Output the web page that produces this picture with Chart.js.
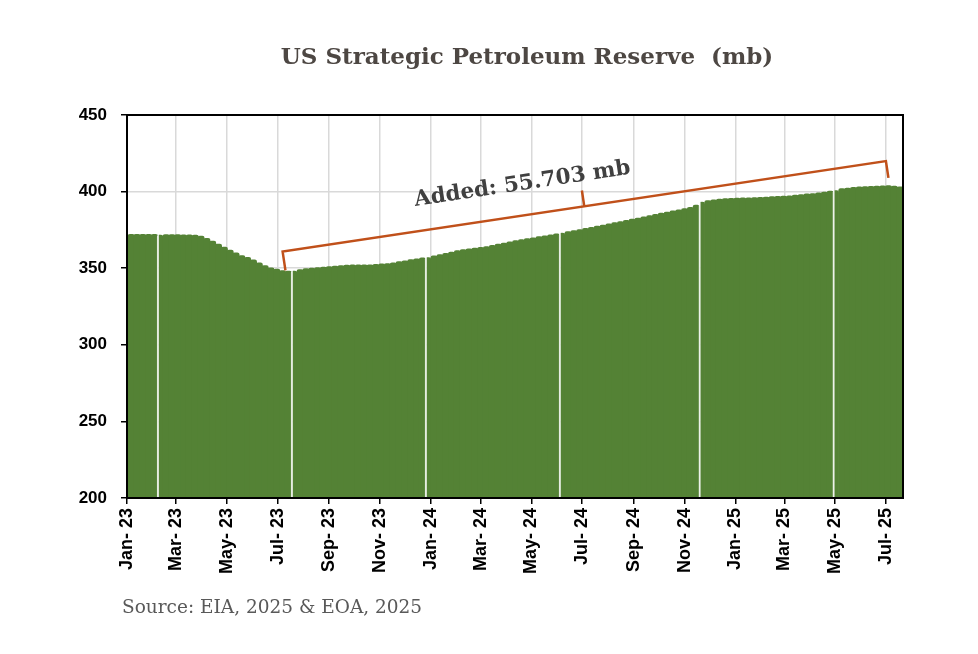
<!DOCTYPE html>
<html>
<head>
<meta charset="utf-8">
<title>US Strategic Petroleum Reserve</title>
<script src="https://cdn.jsdelivr.net/npm/chart.js@4.4.1/dist/chart.umd.min.js"></script>
<style>
  html, body { margin: 0; padding: 0; background: #fff; }
  #wrap { position: relative; width: 978px; height: 654px; }
</style>
</head>
<body>
<div id="wrap"><canvas id="mycanvas"></canvas></div>
<script>
// weekly SPR stocks in million barrels, first week ends Fri 6 Jan 2023
var firstWeek = '2023-01-06';
var weekValues = [
  372.0, 372.0, 372.0, 372.0, 371.9, 371.9, 371.8, 371.8, 371.7, 371.6, 371.6, 371.4,
  370.8, 369.4, 367.5, 365.5, 363.6, 361.7, 359.8, 358.0, 356.9, 355.3, 353.3, 351.6,
  350.1, 349.2, 348.3, 347.9, 348.4, 349.0, 349.5, 349.9, 350.2, 350.5, 350.9, 351.2,
  351.5, 351.8, 352.0, 352.0, 352.0, 352.0, 352.3, 352.6, 352.9, 353.4, 354.1, 354.7,
  355.4, 356.0, 356.6, 357.2, 357.9, 358.7, 359.5, 360.4, 361.3, 361.9, 362.4, 362.9,
  363.4, 364.0, 364.7, 365.5, 366.3, 367.0, 367.8, 368.5, 369.1, 369.7, 370.4, 371.0,
  371.6, 372.2, 373.1, 373.8, 374.4, 375.0, 375.8, 376.5, 377.3, 378.0, 378.8, 379.6,
  380.3, 381.1, 381.9, 382.6, 383.4, 384.2, 385.0, 385.8, 386.5, 387.3, 388.0, 388.7,
  389.6, 391.0, 393.3, 394.0, 394.5, 395.0, 395.3, 395.5, 395.6, 395.7, 395.8, 395.9,
  396.1, 396.3, 396.5, 396.7, 396.9, 397.1, 397.5, 397.9, 398.3, 398.6, 399.0, 399.5,
  400.1, 400.9, 401.8, 402.2, 402.6, 402.9, 403.1, 403.3, 403.5, 403.6, 403.7, 403.4, 403.0
];
// weeks where the excel render shows a thin white seam
var seamWeeks = [5, 28, 51, 74, 98, 121];

var tickDates = ['2023-01-01', '2023-03-01', '2023-05-01', '2023-07-01', '2023-09-01', '2023-11-01',
                 '2024-01-01', '2024-03-01', '2024-05-01', '2024-07-01', '2024-09-01', '2024-11-01',
                 '2025-01-01', '2025-03-01', '2025-05-01', '2025-07-01'];
var tickLabels = ['Jan- 23', 'Mar- 23', 'May- 23', 'Jul- 23', 'Sep- 23', 'Nov- 23',
                  'Jan- 24', 'Mar- 24', 'May- 24', 'Jul- 24', 'Sep- 24', 'Nov- 24',
                  'Jan- 25', 'Mar- 25', 'May- 25', 'Jul- 25'];
var yMin = 200, yMax = 450, yStep = 50;

var titleText = 'US Strategic Petroleum Reserve  (mb)';
var sourceText = 'Source: EIA, 2025 & EOA, 2025';
var noteText = 'Added: 55.703 mb';

var green = '#548235';
var bracketColor = '#C0501A';

// days since 1 Jan 2023
function dayOf(s) {
  var p = s.split('-');
  return (Date.UTC(+p[0], +p[1] - 1, +p[2]) - Date.UTC(2023, 0, 1)) / 86400000;
}
function weekDay(i) {
  return dayOf(firstWeek) + 7 * i;
}

var tickDays = tickDates.map(dayOf);
var points = [];
for (var i = 0; i < weekValues.length; i++) {
  points.push({ x: weekDay(i), y: weekValues[i] });
}
var xMax = weekDay(weekValues.length - 1) + 3.5;

var axisFont = { family: '"Liberation Sans", Arial, sans-serif', size: 18, weight: 'bold' };

var extras = {
  id: 'extras',
  afterDatasetsDraw: function(chart) {
    var c = chart.ctx, a = chart.chartArea;
    var xs = chart.scales.x, ys = chart.scales.y;
    c.save();
    // black frame round the plot
    c.strokeStyle = '#000';
    c.lineWidth = 2;
    c.strokeRect(a.left, a.top, a.right - a.left, a.bottom - a.top);

    // bracket from the low point to the latest high
    var lo = Math.min.apply(null, weekValues), hi = Math.max.apply(null, weekValues);
    var iLo = weekValues.indexOf(lo), iHi = weekValues.indexOf(hi);
    var lx = xs.getPixelForValue(weekDay(iLo)) - 3, ly = ys.getPixelForValue(lo) - 1;
    var rx = xs.getPixelForValue(weekDay(iHi)), ry = ys.getPixelForValue(hi) - 8;
    var dx = rx - lx, dy = (ry - 17) - (ly - 19);
    var len = Math.sqrt(dx * dx + dy * dy);
    var nx = dy / len, ny = -dx / len;
    var tlx = lx + nx * 19, tly = ly + ny * 19;
    var trx = rx + nx * 17, try_ = ry + ny * 17;
    c.strokeStyle = bracketColor;
    c.lineWidth = 2.5;
    c.lineJoin = 'miter';
    c.beginPath();
    c.moveTo(lx, ly);
    c.lineTo(tlx, tly);
    c.lineTo(trx, try_);
    c.lineTo(rx, ry);
    c.stroke();
    var mx = (tlx + trx) / 2, my = (tly + try_) / 2;
    c.beginPath();
    c.moveTo(mx, my);
    c.lineTo(mx + nx * 16, my + ny * 16);
    c.stroke();

    // label along the bracket
    var t = 0.405;
    var px = tlx + (trx - tlx) * t + nx * 31;
    var py = tly + (try_ - tly) * t + ny * 31;
    c.translate(px, py);
    c.rotate(Math.atan2(try_ - tly, trx - tlx));
    c.fillStyle = '#404040';
    c.font = 'bold 21.5px "DejaVu Serif", serif';
    c.textAlign = 'center';
    c.textBaseline = 'middle';
    c.fillText(noteText, 0, 0);
    c.restore();
  },
  afterDraw: function(chart) {
    var c = chart.ctx;
    c.save();
    c.fillStyle = '#4d4743';
    c.font = 'bold 23px "DejaVu Serif", serif';
    c.textAlign = 'center';
    c.textBaseline = 'middle';
    c.fillText(titleText, 527, 58);
    c.fillStyle = '#595959';
    c.font = '18.5px "DejaVu Serif", serif';
    c.textAlign = 'left';
    c.textBaseline = 'alphabetic';
    c.fillText(sourceText, 122, 613);
    c.restore();
  }
};

var ctx = document.getElementById('mycanvas');
var sprChart = new Chart(ctx, {
  type: 'bar',
  data: {
    datasets: [{
      label: 'SPR stocks',
      data: points,
      backgroundColor: green,
      borderColor: 'rgba(255,255,255,0.85)',
      borderWidth: function(c) {
        return seamWeeks.indexOf(c.dataIndex) >= 0 ? { left: 2, top: 0, right: 0, bottom: 0 } : 0;
      },
      borderRadius: { topLeft: 2.2, topRight: 2.2, bottomLeft: 0, bottomRight: 0 },
      borderSkipped: 'start',
      inflateAmount: 0.6,
      barPercentage: 1,
      categoryPercentage: 1
    }]
  },
  options: {
    responsive: true,
    maintainAspectRatio: false,
    animation: false,
    layout: { padding: { left: 60, right: 75, top: 115, bottom: 56 } },
    plugins: {
      legend: { display: false },
      tooltip: { enabled: false }
    },
    scales: {
      x: {
        type: 'linear',
        bounds: 'data',
        offset: false,
        min: 0,
        max: xMax,
        afterBuildTicks: function(scale) {
          scale.ticks = tickDays.map(function(v) { return { value: v }; });
        },
        afterFit: function(scale) { scale.height = 100; },
        ticks: {
          autoSkip: false,
          maxRotation: 90,
          minRotation: 90,
          padding: 4,
          color: '#000',
          font: axisFont,
          callback: function(v, idx) { return tickLabels[idx]; }
        },
        grid: { offset: false, color: '#d9d9d9', lineWidth: 1.5, tickLength: 6, tickColor: '#000', tickWidth: 1.5 },
        border: { display: false }
      },
      y: {
        min: yMin,
        max: yMax,
        afterFit: function(scale) { scale.width = 67; },
        ticks: { stepSize: yStep, padding: 14, color: '#000', font: { family: axisFont.family, size: 17, weight: 'bold' } },
        grid: { color: '#d9d9d9', lineWidth: 1.5, tickLength: 6, tickColor: '#000', tickWidth: 1.5 },
        border: { display: false }
      }
    }
  },
  plugins: [extras]
});
</script>
</body>
</html>
